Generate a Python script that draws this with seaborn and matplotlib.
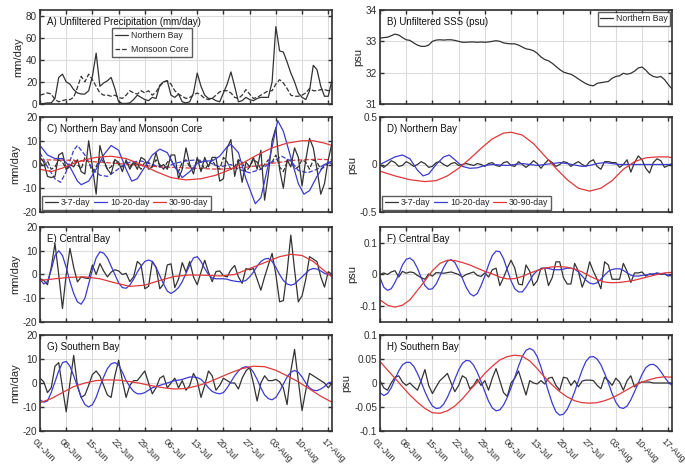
import numpy as np
import pandas as pd
import matplotlib
matplotlib.use("Agg")
import matplotlib.pyplot as plt
import matplotlib.transforms as mtrans
import seaborn as sns

# ---------------- data ----------------
DAYS = list(range(79))  # day 0 = 01-Jun
tick_days = [0, 7, 14, 21, 28, 35, 42, 49, 56, 63, 70, 77]
tick_labels = ["01-Jun", "08-Jun", "15-Jun", "22-Jun", "29-Jun", "06-Jul",
               "13-Jul", "20-Jul", "27-Jul", "03-Aug", "10-Aug", "17-Aug"]

# A) unfiltered precipitation
precip_nb = [0, 0.5, 1, 1, 5, 24, 27, 20, 18, 13, 10, 9, 9, 12, 25, 46, 16, 19, 21, 24,
             14, 2, 0.5, 0.5, 1, 4, 8, 6, 4, 3, 6, 5, 17, 20, 21, 8, 6, 9, 2, 1,
             2, 10, 28, 16, 8, 5, 5, 3, 2, 10, 18, 29, 16, 2, 3, 6, 4, 3, 5, 6,
             6, 6, 20, 70, 48, 47, 38, 28, 20, 10, 6, 4, 12, 35, 31, 16, 7, 7, 22]
precip_mc = [8, 9, 10, 9, 4, 2, 3, 4, 4, 6, 15, 25, 20, 27, 22, 16, 10, 8, 8, 7,
             8, 6, 5, 8, 12, 10, 9, 12, 10, 12, 8, 11, 16, 20, 21, 18, 12, 9, 7, 5,
             6, 8, 10, 8, 5, 4, 5, 8, 11, 12, 12, 10, 6, 5, 8, 13, 9, 5, 6, 8,
             10, 12, 12, 18, 22, 19, 14, 8, 7, 7, 8, 10, 14, 12, 12, 13, 13, 12, 13]

# B) unfiltered SSS
sss_nb = [33.10, 33.12, 33.13, 33.18, 33.23, 33.20, 33.12, 33.05, 33.03, 32.95,
          32.88, 32.84, 32.84, 32.88, 33.00, 33.04, 33.05, 33.04, 33.05, 33.05,
          33.03, 33.00, 32.97, 32.97, 32.98, 32.98, 32.97, 32.98, 32.97, 32.98,
          33.00, 33.02, 33.00, 32.95, 32.93, 32.92, 32.92, 32.88, 32.82, 32.76,
          32.74, 32.70, 32.62, 32.50, 32.42, 32.38, 32.30, 32.20, 32.10, 32.02,
          31.98, 31.95, 31.88, 31.80, 31.72, 31.65, 31.60, 31.58, 31.66, 31.68,
          31.70, 31.72, 31.82, 31.88, 31.90, 31.98, 31.95, 31.98, 32.05, 32.15,
          32.18, 32.08, 31.95, 31.88, 31.85, 31.88, 31.78, 31.62, 31.48]

# C) Northern Bay (solid) and Monsoon Core (dashed) band-passed precipitation
c_nb_37 = [3, 1, -5, -5.5, -5, 4, 5, -2, 0, -1, 2, -3, -4, 10, -1, -12.5, 8, 2, -2, -4,
           2, 1, -3, 2, -2, 1, -2, 3, 2, -2, -1, 5, -1, 0, -2, 4, 4, -6, -2, 7,
           0, -4, 3, -3, 3, -1, 3, 3, -7, -6, 7, 10.5, -5, 2, -7.5, 1, -1, 3, -2, 6,
           -15, -4, 10, 15.5, -2, -10, 2, -1, 7, 3, -9, 2, 11, 7, -2, -12.5, -8, 2, 9]
c_mc_37 = [1, -1, 1.5, -2, -1, 2, 1, -2, -1, 2, 0, -2, 3, 1, -3, -1, 3, 1, -2, -1,
           2, 0, -1, 1, -1, 1, 0, -2, 1, 1, -1, 2, 0, -2, 1, 2, -1, -3, 1, 2,
           -1, -2, 2, 1, -2, 0, 2, -1, -2, 3, 1, -2, -1, 2, 1, -3, -1, 2, 1, -2,
           0, 2, 1, 4, -1, -3, 1, 2, -2, -1, 2, 1, -2, 2, 1, -2, -1, 1, 0]
c_nb_1020_d = [0, 2, 4, 6, 8, 10, 11, 13, 15, 17, 19, 21, 23, 24.5, 26, 28, 30, 32, 34, 36,
               38, 40, 42, 44, 46, 48, 50, 51, 53, 55, 57.5, 59, 61, 63.5, 65, 67, 69,
               70.5, 72, 74, 76, 78]
c_nb_1020 = [8, 4, 2.5, 2.5, -1, -7, -8.5, -7, -2, 4, 8, 6, -2, -7, -6, -1, 4, 6.5, 5, -1,
             -5.5, -3, 0.5, 1.5, 1.5, 3.5, 7.5, 8.5, 5, -6, -16.5, -14, 0, 18.5, 14, 3, -8,
             -12.5, -11, -5, 0, 1.5]
c_mc_1020_d = [0, 2, 4, 5.5, 7, 9, 10, 12, 14, 16, 18, 20, 22, 24, 27, 30, 33, 36, 39, 42,
               45, 48, 51, 53, 56, 59, 62, 64.5, 67, 69, 71.5, 74, 76, 78]
c_mc_1020 = [5, -1, -6, -7.5, -3, 6, 8, 4, -2, -4.5, -5, -3, -0.5, 1, 1.5, 0, -1.5, 0.5, 1.5, 2,
             1, -1, 0, -2, -3.5, -2, 1, 3.5, 1.5, -2.5, -3.5, -2, 0, 1]
c_nb_3090_d = [0, 3, 6, 9, 12, 15, 19, 23, 27, 31, 35, 39, 43, 47, 51, 54, 58, 62, 66, 70, 73, 76, 78]
c_nb_3090 = [-2, -3, -1.5, 0.5, 2, 3, 3.5, 2.5, 0, -3, -5.5, -6.5, -6, -4.5, -2, 0.5, 4, 7, 9, 10,
             10, 9, 8]
c_mc_3090_d = [0, 8, 16, 24, 32, 40, 48, 56, 62, 68, 74, 78]
c_mc_3090 = [2, 1.8, 1, 0, -1, -1.5, -2, -1, 0.5, 1.8, 2.2, 2]

# D) Northern Bay band-passed SSS
d_37 = [0, -0.03, 0, 0.04, 0.02, -0.02, -0.01, 0.03, 0.01, -0.02, 0, 0.03, 0.01, -0.03, -0.02,
        0.02, 0.03, 0, -0.02, 0.01, 0.02, -0.01, 0, 0.01, 0, -0.01, 0.01, 0, -0.02, 0.01,
        0.02, -0.01, -0.02, 0.02, 0.03, -0.01, -0.02, 0.03, 0, -0.03, 0, 0.04, 0.01, -0.04,
        0.01, 0.05, 0.02, -0.02, 0, 0.03, 0.02, -0.02, 0.01, 0.03, 0, -0.02, 0.03, 0.05,
        -0.02, -0.05, 0.03, 0.03, 0.02, 0.02, -0.03, 0, 0.05, -0.08, 0.02, 0.09, 0.05, -0.04,
        -0.09, 0.02, 0.06, 0.04, -0.03, -0.01, 0.01]
d_1020_d = [0, 2, 4, 6, 8, 10, 11.5, 13, 15, 17, 18.5, 20, 22, 24, 26, 28, 30, 34, 38, 42,
            46, 48, 50, 54, 56, 58, 60, 62, 64, 70, 78]
d_1020 = [0, 0.04, 0.08, 0.1, 0.06, -0.06, -0.12, -0.1, 0, 0.08, 0.1, 0.05, -0.02, -0.04,
          -0.035, -0.01, 0, -0.01, 0.01, -0.01, 0.01, 0.02, 0.01, -0.02, -0.01, 0.01, 0.02,
          0.01, 0, 0, 0]
d_3090_d = [0, 4, 8, 12, 15, 18, 21, 24, 27, 30, 33, 35, 38, 41, 44, 47, 50, 53, 56, 59,
            62, 65, 68, 71, 74, 77, 78]
d_3090 = [-0.07, -0.12, -0.16, -0.18, -0.17, -0.12, -0.04, 0.06, 0.17, 0.27, 0.33, 0.34,
          0.31, 0.22, 0.09, -0.04, -0.16, -0.25, -0.28, -0.25, -0.17, -0.05, 0.03, 0.07,
          0.08, 0.08, 0.07]

# E) Central Bay precipitation
e_37 = [-1.7, -2.5, -4.3, 3, 13, 0, -14.3, 0, 11, 3, -3.1, -1, -1.5, -1.7, 4, 0, 4.6, 1.5,
        -1, 1, 2, 1.5, 0, 0.5, -3, -1, 5.5, 4, -6, -5, 5.5, 3, -6, -4, 4, 4.5, -5.5, -2,
        5, 1, 5.5, -1, -4.3, 1, 6, 1, -3, 1.2, 1.5, -0.5, -1, 2, 3.8, -1, -3.7, 2.5, 2,
        2.5, -2, -6.6, -1, 4, 8.9, 0, -11.5, -11, 1, 16.6, 2, -11.5, -9, -2, 7.5, 6.5, 5.4,
        -1, -5.3, 1.2, 0]
e_1020 = [-2, -4, -3, 2, 8, 10, 8, 3, -3, -8, -11.5, -12.5, -10, -4, 2, 7, 9.5, 9, 7, 3.5,
          0, -3.5, -5.5, -5.8, -4.5, -2, 1, 3.5, 5.5, 6.1, 5.5, 3, -0.5, -4, -7, -8, -7, -5.5,
          -3, 0.5, 4, 7, 7.5, 5.5, 2.5, 0, -1.5, -1.8, -1.8, -1.8, -2, -2.5, -2.8, -3, -3,
          -2.5, -1, 1, 3.5, 5.5, 6.5, 6.8, 5.5, 3, 0, -2.5, -4, -4.5, -4, -2.5, -1, 0.5, 2,
          2.5, 2.3, 1.5, 0.5, 0, 0]
e_3090_d = [0, 4, 8, 12, 16, 20, 24, 28, 32, 36, 40, 44, 48, 52, 56, 60, 64, 67, 70, 73, 76, 78]
e_3090 = [-2.5, -1.8, -1.2, -1, -1.8, -3.5, -5, -4.5, -2.5, -0.8, -0.2, -0.3, -0.6, 0, 2.5,
          5, 7.5, 8.5, 8, 5.5, 1.5, -1]

# F) Central Bay SSS
f_37 = [0, 0.005, 0, 0.008, 0.012, -0.008, 0.01, 0.004, 0.008, 0.006, -0.003, -0.01, -0.015,
        0.002, -0.005, 0.006, 0.005, 0.004, 0.006, 0.008, 0.004, 0, -0.008, 0, 0.004, 0.008,
        -0.003, -0.006, 0.005, -0.008, 0.015, 0.02, -0.035, -0.01, 0.02, 0.045, 0.02, -0.03,
        -0.033, 0.03, 0.01, -0.035, -0.02, 0.02, 0.02, -0.035, -0.01, 0.04, 0.04, -0.01,
        -0.03, -0.03, 0.035, 0.01, -0.04, -0.01, 0.04, 0.01, -0.015, -0.045, 0.04, 0.03,
        -0.015, -0.015, -0.015, 0.035, 0.01, -0.025, 0.005, 0.005, 0.008, -0.005, 0.002, 0,
        0.005, 0, 0.002, -0.005, 0]
f_1020 = [-0.01, -0.04, -0.05, -0.045, -0.025, 0, 0.03, 0.048, 0.052, 0.042, 0.02, -0.01,
          -0.035, -0.047, -0.045, -0.03, -0.005, 0.022, 0.042, 0.047, 0.038, 0.015, -0.012,
          -0.04, -0.06, -0.068, -0.06, -0.035, -0.005, 0.03, 0.06, 0.074, 0.072, 0.05, 0.015,
          -0.02, -0.045, -0.055, -0.055, -0.04, -0.02, 0, 0.012, 0.018, 0.02, 0.019, 0.016,
          0.015, 0.015, 0.017, 0.02, 0.02, 0.017, 0.008, -0.005, -0.018, -0.027, -0.03,
          -0.026, -0.015, -0.002, 0.01, 0.016, 0.018, 0.018, 0.013, 0.005, -0.002, -0.005,
          -0.005, -0.003, -0.001, 0, 0.002, 0.004, 0.003, 0.002, -0.002, -0.005]
f_3090_d = [0, 2, 4, 6, 8, 10, 12, 14, 16, 18, 20, 22, 24, 26, 28, 30, 32, 34, 36, 38, 40,
            42, 44, 46, 48, 50, 52, 54, 56, 58, 60, 62, 64, 66, 68, 70, 72, 74, 76, 78]
f_3090 = [-0.08, -0.097, -0.103, -0.097, -0.08, -0.05, -0.02, 0.012, 0.035, 0.045, 0.044,
          0.038, 0.03, 0.02, 0.01, 0.002, -0.008, -0.014, -0.013, -0.006, 0.004, 0.013, 0.02,
          0.024, 0.025, 0.023, 0.017, 0.008, -0.005, -0.016, -0.024, -0.026, -0.025, -0.022,
          -0.018, -0.012, -0.006, 0, 0.005, 0.007]

# G) Southern Bay precipitation
g_37 = [2, 0.5, -4, -2, 7, 8.5, -2, -12, 0, 11.5, -1, -6, -5, -1, 3.5, 5, 3, -1, -5, -6,
        3, 9.5, 1, -6, -1, 1, 1, 3, 5, 0, -4.5, -2, 2, 3, -2, 0, 2, -2, 1, -3,
        -1, 4, 1, -6, -1, 5, 3, -3, -1, 2, 1, 0, 0, -2.5, 2, 5, 6.5, 0, -7.5, 0,
        3, 1, 1, 1.5, 0.5, -2, -9, 5, 14, 1, -11.5, -3, 4, 3, 2, 1, 0, -2, 0]
g_1020 = [-7, -8, -7.5, -4, 0.5, 5, 8.5, 9, 7, 3, -1.5, -6, -9, -10, -9, -6, -1.5, 2.5, 6, 8,
          8.5, 7.5, 4.5, 1, -1.5, -3.5, -4.5, -4.5, -4, -3, -2, -1.5, -1, -0.5, 0, 0.5, 1,
          1.2, 1.5, 2, 2.5, 2.5, 2.3, 1.5, 0, -2, -3.5, -4.2, -4.5, -4, -2, 0.5, 3, 5, 6.3,
          6.8, 6.5, 4.5, 1.5, -2, -5, -6.5, -7, -6, -3.5, -0.5, 2.5, 4.5, 5.2, 4.5, 2.5, 0,
          -2, -3, -3.2, -2.5, -1.5, 0, 0.5]
g_3090_d = [0, 3, 6, 9, 12, 15, 18, 21, 24, 27, 30, 33, 36, 39, 42, 45, 48, 51, 54, 57, 60,
            63, 66, 69, 72, 75, 78]
g_3090 = [-8.2, -6.5, -4, -1.5, 0, 1, 1.3, 1.2, 0.6, -0.2, -1.2, -2, -2.5, -2.3, -1.2, 0.3,
          2.3, 4.3, 6, 7, 6.8, 5.3, 3, 0.5, -2.5, -5.5, -8]

# H) Southern Bay SSS
h_37 = [0.005, -0.01, -0.015, 0, 0.012, 0.015, 0.002, -0.005, 0, -0.008, -0.015, 0.005, 0.028,
        -0.005, -0.022, -0.008, 0.005, 0.012, 0.02, 0, -0.018, -0.005, 0.015, 0.01, -0.012,
        -0.005, 0.008, -0.005, 0.005, -0.015, 0.01, 0.03, 0.005, -0.02, -0.028, 0, 0.01,
        0.025, 0, -0.025, 0.005, 0, -0.002, 0.005, -0.002, 0.01, 0.012, -0.005, -0.015,
        0.012, 0.01, -0.005, 0.005, -0.008, 0.004, 0.006, 0.006, 0.005, -0.005, -0.012,
        0.012, 0.005, -0.005, 0.01, 0.002, -0.015, 0.005, 0.015, -0.008, 0, 0.002, 0.002,
        0.002, 0, 0, 0, 0, 0, 0]
h_1020 = [-0.02, -0.026, -0.022, -0.01, 0.008, 0.025, 0.038, 0.043, 0.043, 0.035, 0.02, 0.002,
          -0.018, -0.035, -0.048, -0.053, -0.052, -0.044, -0.03, -0.012, 0.008, 0.027, 0.041,
          0.047, 0.046, 0.037, 0.022, 0.003, -0.018, -0.038, -0.052, -0.058, -0.056, -0.046,
          -0.03, -0.01, 0.012, 0.035, 0.055, 0.068, 0.072, 0.068, 0.055, 0.033, 0.008, -0.018,
          -0.042, -0.06, -0.067, -0.065, -0.055, -0.038, -0.018, 0.005, 0.027, 0.045, 0.054,
          0.055, 0.05, 0.038, 0.02, 0, -0.022, -0.04, -0.051, -0.053, -0.048, -0.035, -0.018,
          0, 0.018, 0.032, 0.038, 0.039, 0.034, 0.024, 0.012, 0.002, -0.005]
h_3090_d = [0, 2, 4, 6, 8, 10, 12, 14, 16, 18, 20, 22, 24, 26, 28, 30, 32, 34, 36, 38, 40,
            42, 44, 46, 48, 50, 52, 54, 56, 58, 60, 62, 64, 66, 68, 70, 72, 74, 76, 78]
h_3090 = [0.045, 0.027, 0.01, -0.008, -0.025, -0.04, -0.053, -0.062, -0.063, -0.058, -0.048,
          -0.033, -0.015, 0.002, 0.02, 0.035, 0.048, 0.055, 0.058, 0.056, 0.046, 0.03, 0.012,
          -0.004, -0.018, -0.029, -0.037, -0.041, -0.042, -0.041, -0.037, -0.031, -0.023,
          -0.014, -0.005, 0.002, 0.007, 0.011, 0.013, 0.012]

# ---------------- style ----------------
sns.set_theme(style="ticks")
plt.rcParams['font.family'] = ['Liberation Sans', 'DejaVu Sans']
BLACK = "#333333"
BLUE = "#3b3bd0"
RED = "#e0383a"
SPINE = "#303030"

fig = plt.figure(figsize=(6.85, 4.71), dpi=100)

lefts = [40 / 685, 380 / 685]
width = 292 / 685
rows = [(10, 104), (117, 212), (227, 322), (335, 431)]

LEG = dict(fontsize=6.3, frameon=True, fancybox=False, edgecolor=BLACK,
           handlelength=1.5, handletextpad=0.3)


def make_ax(col, row):
    top, bot = rows[row]
    ax = fig.add_axes([lefts[col], 1 - bot / 471, width, (bot - top) / 471])
    return ax


def draw(ax, days, vals, color, ls="-", lw=0.9, label=None):
    df = pd.DataFrame({"day": days, "v": vals})
    sns.lineplot(data=df, x="day", y="v", ax=ax, color=color, linestyle=ls,
                 linewidth=lw, label=label, legend=False, sort=False)


def style(ax, ylim, yticks, yticklabels, ylabel, title, bottom=False):
    ax.set_xlim(0, 78)
    ax.set_ylim(*ylim)
    ax.set_xticks(tick_days)
    ax.set_yticks(yticks)
    ax.set_yticklabels(yticklabels)
    ax.grid(True, color="#dcdcdc", linewidth=0.8)
    ax.set_axisbelow(True)
    ax.tick_params(direction="in", top=True, right=True, length=3, width=1,
                   colors=SPINE, labelsize=7.2, pad=2)
    for s in ax.spines.values():
        s.set_linewidth(1.2)
        s.set_color(SPINE)
    ax.set_xlabel("")
    ax.set_ylabel(ylabel, fontsize=8, labelpad=2)
    if bottom:
        ax.tick_params(axis="x", pad=4)
        ax.set_xticklabels(tick_labels, rotation=-45, ha="left",
                           rotation_mode="anchor", fontsize=6.7)
        off = mtrans.ScaledTranslation(-3 / 100, 0, fig.dpi_scale_trans)
        for lab in ax.get_xticklabels():
            lab.set_transform(lab.get_transform() + off)
    else:
        ax.set_xticklabels([])
    ax.text(0.025, 0.93, title, transform=ax.transAxes, va="top", ha="left",
            fontsize=7.0, color="#111111")


# A
ax = make_ax(0, 0)
draw(ax, DAYS, precip_nb, BLACK, "-", label="Northern Bay")
draw(ax, DAYS, precip_mc, BLACK, "--", label="Monsoon Core")
style(ax, (0, 85), [0, 20, 40, 60, 80], ["0", "20", "40", "60", "80"], "mm/day",
      "A) Unfiltered Precipitation (mm/day)")
ax.legend(loc="upper left", bbox_to_anchor=(0.245, 0.81), borderpad=0.4,
          labelspacing=0.5, borderaxespad=0, **LEG)

# B
ax = make_ax(1, 0)
draw(ax, DAYS, sss_nb, BLACK, "-", label="Northern Bay")
style(ax, (31, 34), [31, 32, 33, 34], ["31", "32", "33", "34"], "psu",
      "B) Unfiltered SSS (psu)")
ax.legend(loc="upper right", borderpad=0.25, borderaxespad=0.25, **LEG)

# C
ax = make_ax(0, 1)
draw(ax, DAYS, c_mc_37, BLACK, "--")
draw(ax, c_mc_1020_d, c_mc_1020, BLUE, "--")
draw(ax, c_mc_3090_d, c_mc_3090, RED, "--")
draw(ax, DAYS, c_nb_37, BLACK, "-", label="3-7-day")
draw(ax, c_nb_1020_d, c_nb_1020, BLUE, "-", label="10-20-day")
draw(ax, c_nb_3090_d, c_nb_3090, RED, "-", label="30-90-day")
style(ax, (-20, 20), [-20, -10, 0, 10, 20], ["-20", "-10", "0", "10", "20"], "mm/day",
      "C) Northern Bay and Monsoon Core")
h, l = ax.get_legend_handles_labels()
ax.legend(h[-3:], l[-3:], loc="lower left", ncol=3, borderpad=0.3,
          columnspacing=0.45, borderaxespad=0.25, **LEG)

# D
ax = make_ax(1, 1)
draw(ax, DAYS, d_37, BLACK, "-", label="3-7-day")
draw(ax, d_1020_d, d_1020, BLUE, "-", label="10-20-day")
draw(ax, d_3090_d, d_3090, RED, "-", label="30-90-day")
style(ax, (-0.5, 0.5), [-0.5, 0, 0.5], ["-0.5", "0", "0.5"], "psu", "D) Northern Bay")
ax.legend(loc="lower left", ncol=3, borderpad=0.3, columnspacing=0.45,
          borderaxespad=0.25, **LEG)

# E
ax = make_ax(0, 2)
draw(ax, DAYS, e_37, BLACK)
draw(ax, DAYS, e_1020, BLUE)
draw(ax, e_3090_d, e_3090, RED)
style(ax, (-20, 20), [-20, -10, 0, 10, 20], ["-20", "-10", "0", "10", "20"], "mm/day",
      "E) Central Bay")

# F
ax = make_ax(1, 2)
draw(ax, DAYS, f_37, BLACK)
draw(ax, DAYS, f_1020, BLUE)
draw(ax, f_3090_d, f_3090, RED)
style(ax, (-0.15, 0.15), [-0.1, 0, 0.1], ["-0.1", "0", "0.1"], "psu", "F) Central Bay")

# G
ax = make_ax(0, 3)
draw(ax, DAYS, g_37, BLACK)
draw(ax, DAYS, g_1020, BLUE)
draw(ax, g_3090_d, g_3090, RED)
style(ax, (-20, 20), [-20, -10, 0, 10, 20], ["-20", "-10", "0", "10", "20"], "mm/day",
      "G) Southern Bay", bottom=True)

# H
ax = make_ax(1, 3)
draw(ax, DAYS, h_37, BLACK)
draw(ax, DAYS, h_1020, BLUE)
draw(ax, h_3090_d, h_3090, RED)
style(ax, (-0.1, 0.1), [-0.1, -0.05, 0, 0.05, 0.1], ["-0.1", "-0.05", "0", "0.05", "0.1"],
      "psu", "H) Southern Bay", bottom=True)

fig.savefig("out.png", dpi=100)
